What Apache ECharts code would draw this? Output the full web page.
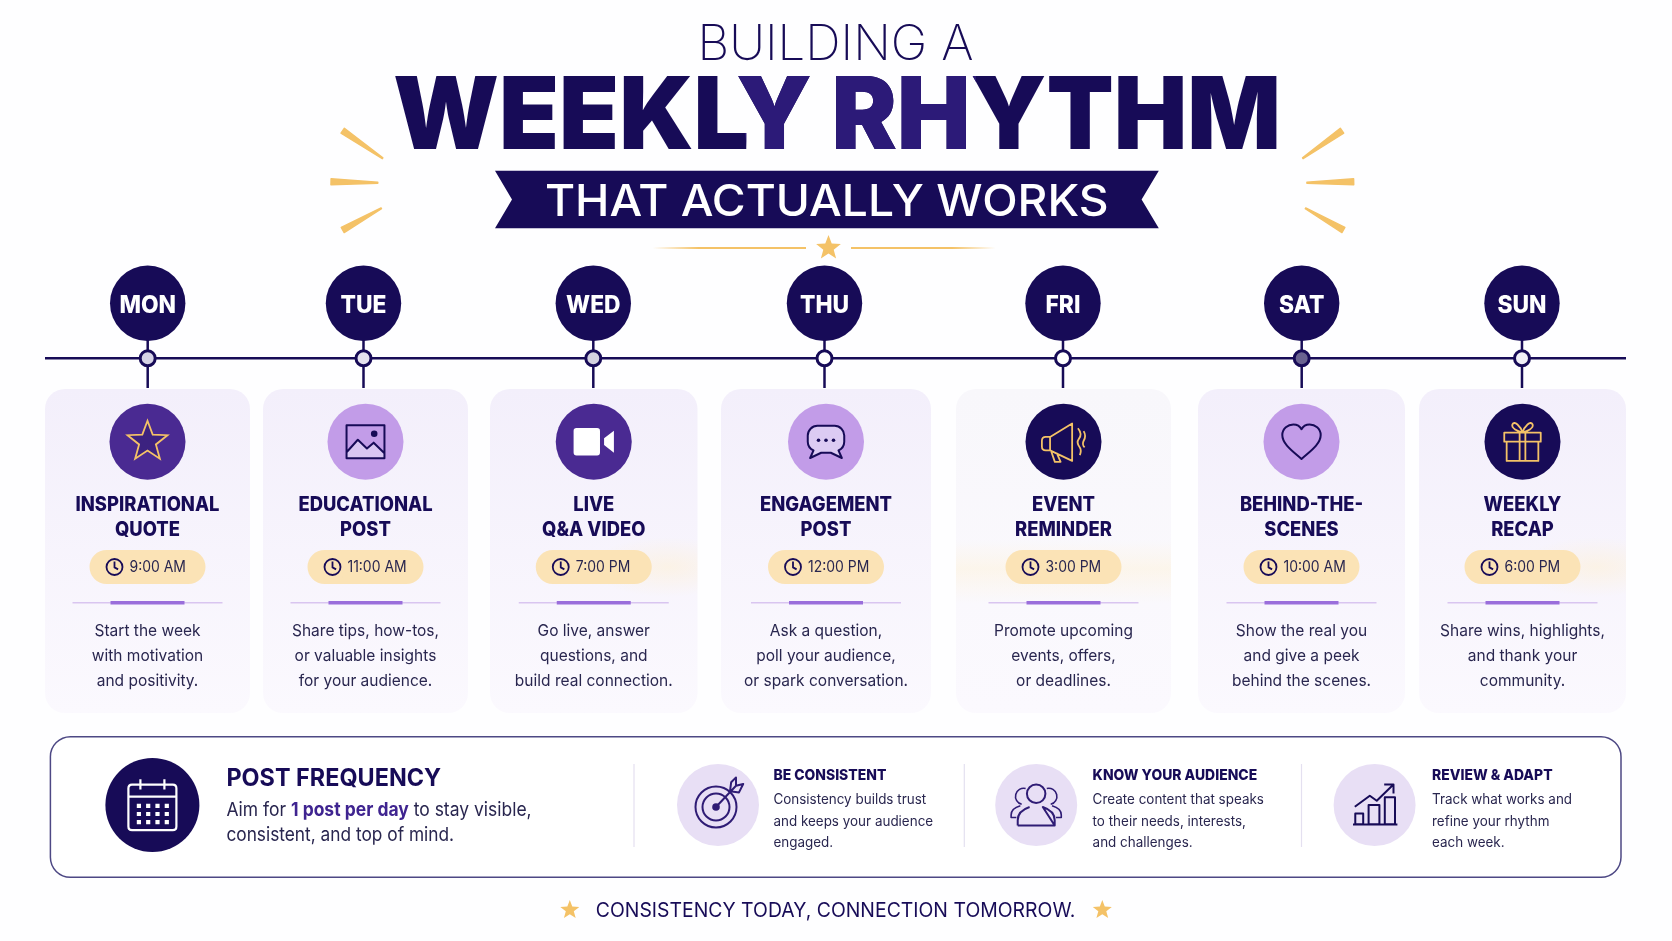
<!DOCTYPE html>
<html>
<head>
<meta charset="utf-8">
<title>Building a weekly rhythm</title>
<style>
html, body { margin: 0; padding: 0; background: #fefeff; }
#chart { width: 1672px; height: 941px; }
</style>
</head>
<body>
<div id="chart"></div>
<script src="https://cdn.jsdelivr.net/npm/echarts@6/dist/echarts.min.js"></script>
<script>
'use strict';

// 内容
var dayLabels = ['MON', 'TUE', 'WED', 'THU', 'FRI', 'SAT', 'SUN'];
var postTitles = [
    ['INSPIRATIONAL', 'QUOTE'],
    ['EDUCATIONAL', 'POST'],
    ['LIVE', 'Q&A VIDEO'],
    ['ENGAGEMENT', 'POST'],
    ['EVENT', 'REMINDER'],
    ['BEHIND-THE-', 'SCENES'],
    ['WEEKLY', 'RECAP']
];
var postTimes = ['9:00 AM', '11:00 AM', '7:00 PM', '12:00 PM', '3:00 PM', '10:00 AM', '6:00 PM'];
var postCaptions = [
    ['Start the week', 'with motivation', 'and positivity.'],
    ['Share tips, how-tos,', 'or valuable insights', 'for your audience.'],
    ['Go live, answer', 'questions, and', 'build real connection.'],
    ['Ask a question,', 'poll your audience,', 'or spark conversation.'],
    ['Promote upcoming', 'events, offers,', 'or deadlines.'],
    ['Show the real you', 'and give a peek', 'behind the scenes.'],
    ['Share wins, highlights,', 'and thank your', 'community.']
];
var tipTitles = ['BE CONSISTENT', 'KNOW YOUR AUDIENCE', 'REVIEW & ADAPT'];
var tipLines = [
    ['Consistency builds trust', 'and keeps your audience', 'engaged.'],
    ['Create content that speaks', 'to their needs, interests,', 'and challenges.'],
    ['Track what works and', 'refine your rhythm', 'each week.']
];

// 版面
var W = 1672, H = 941;
var NAVY = '#170b57', PURPLE = '#4a2a92', LILAC = '#c29ce8', GOLD = '#f4c267', INK = '#29264f';
var FONT = 'Inter, "Noto Sans", sans-serif';
var timelineX = [147.7, 363.5, 593.3, 824.5, 1063, 1301.7, 1522];
var timelineY = 358.3;
var cardLeft = [45, 263, 490, 721, 956, 1198, 1419];
var cardRight = [250, 468, 697.5, 931, 1171, 1405, 1626];
var nodeFill = ['#d6d3e6', '#e6e3ef', '#d4d2e0', '#ffffff', '#ffffff', '#6a6390', '#f1f0f7'];
var iconFill = [PURPLE, LILAC, PURPLE, LILAC, NAVY, LILAC, NAVY];
var glowSide = [0, 0, 1, 0, 2, 0, 1];
var tipCircleX = [718, 1036.2, 1374.6];
var tipTextX = [773.4, 1092.6, 1432];
var tipRuleX = [634, 964.3, 1301.5];

// 小工具
function txt(text, x, y, size, weight, fill, align, scaleX) {
    return {
        type: 'text', x: x, y: y, scaleX: scaleX || 1,
        style: {
            text: text, fontFamily: FONT, fontSize: size, fontWeight: weight, fill: fill,
            align: align || 'center', verticalAlign: 'middle'
        }
    };
}
function circle(cx, cy, r, fill, stroke, lw) {
    return {
        type: 'circle', shape: {cx: cx, cy: cy, r: r},
        style: {fill: fill || 'none', stroke: stroke || 'none', lineWidth: lw || 0}
    };
}
function rrect(x, y, w, h, r, fill, stroke, lw) {
    return {
        type: 'rect', shape: {x: x, y: y, width: w, height: h, r: r},
        style: {fill: fill || 'none', stroke: stroke || 'none', lineWidth: lw || 0}
    };
}
function seg(x1, y1, x2, y2, stroke, lw) {
    return {
        type: 'line', shape: {x1: x1, y1: y1, x2: x2, y2: y2},
        style: {stroke: stroke, lineWidth: lw}
    };
}
// 图标路径都画在 100x100 的方框里，前面两段极短的线把外框撑满
var BOX = 'M0 0L0.001 0M100 100L100.001 100';
function icon(d, cx, cy, size, fill, stroke, lw) {
    return {
        type: 'path',
        shape: {pathData: BOX + d, x: cx - size / 2, y: cy - size / 2, width: size, height: size, layout: 'cover'},
        style: {fill: fill || 'none', stroke: stroke || 'none', lineWidth: lw || 0, lineJoin: 'round'}
    };
}
function starPoints(cx, cy, r, inner) {
    var pts = [];
    for (var i = 0; i < 10; i++) {
        var a = -Math.PI / 2 + i * Math.PI / 5;
        var rad = i % 2 ? r * inner : r;
        pts.push([cx + rad * Math.cos(a), cy + rad * Math.sin(a)]);
    }
    return pts;
}
function star(cx, cy, r, fill, stroke, lw) {
    return {
        type: 'polygon', shape: {points: starPoints(cx, cy, r, 0.42)},
        style: {fill: fill, stroke: stroke || 'none', lineWidth: lw || 0, lineJoin: 'miter'}
    };
}
// 渐细的金色光线，外端宽，内端尖
function ray(x1, y1, x2, y2) {
    var dx = x2 - x1, dy = y2 - y1, len = Math.sqrt(dx * dx + dy * dy);
    var nx = -dy / len, ny = dx / len;
    return {
        type: 'polygon',
        shape: {points: [
            [x1 + nx * 3, y1 + ny * 3], [x2 + nx * 0.5, y2 + ny * 0.5],
            [x2 - nx * 0.5, y2 - ny * 0.5], [x1 - nx * 3, y1 - ny * 3]
        ]},
        style: {fill: GOLD, stroke: GOLD, lineWidth: 1.4, lineJoin: 'round'}
    };
}
function fade(a, b) {
    return new echarts.graphic.LinearGradient(a, 0, b, 0, [
        {offset: 0, color: 'rgba(244,194,103,0)'},
        {offset: 0.3, color: GOLD},
        {offset: 1, color: GOLD}
    ]);
}

// 时间胶囊旁的淡黄光晕
function glow(i, left, right) {
    if (glowSide[i] === 2) {
        return [rrect(left, 540, right - left, 64, 0, new echarts.graphic.LinearGradient(0, 0, 0, 1, [
            {offset: 0, color: 'rgba(255,242,214,0)'},
            {offset: 0.45, color: 'rgba(255,242,214,0.45)'},
            {offset: 1, color: 'rgba(255,242,214,0)'}
        ]))];
    }
    if (glowSide[i] === 1) {
        var sx = 2.6, gx = right - 30;
        return [{
            type: 'circle', x: gx, y: 567, scaleX: sx, shape: {cx: 0, cy: 0, r: 30},
            style: {
                fill: new echarts.graphic.RadialGradient(0.5, 0.5, 0.5, [
                    {offset: 0, color: 'rgba(255,240,208,0.5)'},
                    {offset: 1, color: 'rgba(255,240,208,0)'}
                ])
            },
            clipPath: {type: 'rect', shape: {x: -80 / sx, y: -40, width: 110 / sx, height: 80}}
        }];
    }
    return [];
}

// 每张卡片里的图标
function dayIcon(i, cx, cy) {
    var out = [];
    switch (i) {
    case 0:
        out.push(star(cx, cy, 21, '#3c2280', GOLD, 1.8));
        break;
    case 1:
        out.push(icon('M10.5 70L34 46L53 64L67 52L89.5 72V84.5H10.5Z', cx, cy, 48, '#d9c6f2'));
        out.push(icon('M10.5 15.5H89.5V84.5H10.5ZM10.5 72L34 46L53 64L67 52L89.5 74', cx, cy, 48, 'none', NAVY, 2));
        out.push(circle(cx + 8.7, cy - 8, 3.3, NAVY));
        break;
    case 2:
        out.push(icon('M14 21.5H57Q63 21.5 63 27.5V72.5Q63 78.5 57 78.5H14Q8 78.5 8 72.5V27.5Q8 21.5 14 21.5ZM71.5 43L92 27V73L71.5 57Z', cx, cy, 48, '#ffffff'));
        break;
    case 3:
        out.push(icon('M32 17H68A20 20 0 0 1 88 37V50A20 20 0 0 1 76 68L83 84L60 73H40L17 84L24 68A20 20 0 0 1 12 50V37A20 20 0 0 1 32 17Z', cx, cy, 48, '#dccbf3', NAVY, 2));
        out.push(circle(cx - 7.5, cy - 1.5, 1.8, NAVY), circle(cx, cy - 1.5, 1.8, NAVY), circle(cx + 7.5, cy - 1.5, 1.8, NAVY));
        break;
    case 4:
        out.push(icon('M22 40H13Q5 40 5 48V60Q5 68 13 68H22ZM22 40L68 12V90L22 68ZM24 69L32 92H44L36 74M80 22Q90 34 82 44Q76 52 84 62Q88 68 84 78M92 28Q98 38 92 48Q88 56 94 62', cx, cy, 48, 'none', GOLD, 1.8));
        break;
    case 5:
        out.push(icon('M50 86C35 72 10 56 10 36C10 22 22 14 33 14C41 14 47 18 50 24C53 18 59 14 67 14C78 14 90 22 90 36C90 56 65 72 50 86Z', cx, cy, 48, 'none', NAVY, 2));
        break;
    default:
        out.push(icon('M12 31H88V50H12ZM17 50V90H83V50M44 31V90M56 31V90M50 31C40 28 26 22 29 14C33 5 46 18 50 31C54 18 67 5 71 14C74 22 60 28 50 31Z', cx, cy, 48, 'none', GOLD, 1.8));
    }
    return out;
}

function renderDay(params, api) {
    var i = api.value(1);
    var pos = api.coord([api.value(0), timelineY]);
    var x = pos[0], y = pos[1];
    var left = cardLeft[i], right = cardRight[i], cx = (left + right) / 2;
    var children = [];

    // 卡片底色
    var top = i === 4 ? '#f8f7fb' : '#f3effb';
    children.push(rrect(left, 389, right - left, 324, 20,
        new echarts.graphic.LinearGradient(0, 0, 0, 1, [
            {offset: 0, color: top},
            {offset: 1, color: '#fbf9fe'}
        ])));
    children = children.concat(glow(i, left, right));

    // 时间轴上的圆和节点
    children.push(seg(x, y - 20, x, 388, NAVY, 2.5));
    children.push(circle(x, y - 55, 37.7, NAVY));
    children.push(circle(x, y, 7.5, nodeFill[i], NAVY, 3));
    children.push(txt(dayLabels[i], x, y - 53, 24, 800, '#ffffff', 'center', 0.95));

    // 图标
    children.push(circle(cx, 441.7, 38, iconFill[i]));
    children = children.concat(dayIcon(i, cx, 441.7));

    // 标题
    children.push(txt(postTitles[i][0], cx, 505, 20, 800, NAVY, 'center', 0.92));
    children.push(txt(postTitles[i][1], cx, 530, 20, 800, NAVY, 'center', 0.92));

    // 时间
    children.push(rrect(cx - 58, 550, 116, 34, 17, '#fbe3b6'));
    var clockX = cx - 33;
    children.push(circle(clockX, 567, 8, 'none', NAVY, 1.8));
    children.push(icon('M50 22V52L68 62', clockX, 567, 20, 'none', NAVY, 1.8));
    children.push(txt(postTimes[i], cx - 18, 567, 15.5, 400, INK, 'left', 0.9));

    // 分隔线
    children.push(seg(cx - 75, 602.7, cx + 75, 602.7, '#d9c5f0', 1.5));
    children.push(seg(cx - 37, 602.7, cx + 37, 602.7, '#9a6edb', 3.5));

    // 说明
    children.push(txt(postCaptions[i][0], cx, 631, 16.5, 400, INK, 'center', 0.94));
    children.push(txt(postCaptions[i][1], cx, 656, 16.5, 400, INK, 'center', 0.94));
    children.push(txt(postCaptions[i][2], cx, 680.7, 16.5, 400, INK, 'center', 0.94));

    return {type: 'group', children: children};
}

function tipIcon(i, cx, cy) {
    var c = '#2f1c75';
    if (i === 0) {
        return [
            circle(cx - 2, cy + 2, 20.5, 'none', c, 2),
            circle(cx - 2, cy + 2, 13.5, 'none', c, 2),
            circle(cx - 2, cy + 2, 3.8, c),
            icon('M47 53L80 18M72 12L70 27L85 29L92 15L80 18L80 4Z', cx, cy, 60, 'none', c, 2)
        ];
    }
    if (i === 1) {
        return [
            icon('M50 19A14 14 0 1 1 49.9 19ZM22 81V73Q22 59 40 53M60 53Q78 59 78 73V81ZM22 81H78', cx, cy, 66, 'none', c, 2),
            icon('M34 25A11 11 0 1 0 28 49M66 25A11 11 0 1 1 72 49M20 69H12V65Q12 55 26 51M80 69H88V65Q88 55 74 51', cx, cy, 66, 'none', c, 1.6)
        ];
    }
    return [
        icon('M17.8 64H31V82H17.8ZM40 50H58V82H40ZM67 37H84V82H67ZM14 82.5H88M17 53L42 34.5L53.6 43L80.5 16.7M66 16H81.5V31', cx, cy, 60, 'none', NAVY, 2)
    ];
}

function renderTip(params, api) {
    var i = api.value(0);
    var cx = tipCircleX[i], tx = tipTextX[i];
    var children = [
        seg(tipRuleX[i], 764, tipRuleX[i], 847, '#e4e0f0', 1.2),
        circle(cx, 805, 41, '#e8dff5')
    ];
    children = children.concat(tipIcon(i, cx, 805));
    children.push(txt(tipTitles[i], tx, 775.7, 14.5, 800, NAVY, 'left', 0.96));
    children.push(txt(tipLines[i][0], tx, 799.5, 14, 400, INK, 'left', 0.96));
    children.push(txt(tipLines[i][1], tx, 821.5, 14, 400, INK, 'left', 0.96));
    children.push(txt(tipLines[i][2], tx, 842.5, 14, 400, INK, 'left', 0.96));
    return {type: 'group', children: children};
}

// 大标题、面板和页脚
function renderFrame() {
    var dots = '';
    for (var r = 0; r < 3; r++) {
        for (var c = 0; c < 4; c++) {
            var dx = 24 + c * 15.5, dy = 48 + r * 13.5;
            dots += 'M' + dx + ' ' + dy + 'h7v7h-7z';
        }
    }
    var sx = 0.98;
    var headline = txt('WEEKLY RHYTHM', 837, 119, 100, 900, NAVY, 'center', sx);
    var headlineMid = txt('WEEKLY RHYTHM', 837, 119, 100, 900, '#2c1a78', 'center', sx);
    // 中间几个字母颜色稍浅，裁剪边沿着 Y 的斜笔走
    headlineMid.clipPath = {
        type: 'polygon',
        shape: {points: [
            [(733 - 837) / sx, -60], [(976 - 837) / sx, -60],
            [(976 - 837) / sx, 60], [(752 - 837) / sx, 60]
        ]}
    };
    return {
        type: 'group',
        children: [
            txt('BUILDING A', 835.5, 45.5, 48.5, 200, NAVY, 'center', 1.015),
            headline,
            headlineMid,
            {
                type: 'polygon',
                shape: {points: [[495, 170.7], [1158.8, 170.7], [1141.6, 199.5], [1158.8, 228.3], [495, 228.3], [512, 199.5]]},
                style: {fill: NAVY}
            },
            txt('THAT ACTUALLY WORKS', 826.8, 203, 44, 500, '#ffffff', 'center', 1.05),
            ray(342.7, 130.7, 382.6, 158.3),
            ray(331, 181.7, 377.8, 182.7),
            ray(342.7, 230, 381.3, 208.3),
            ray(1342, 130.7, 1302.8, 158.3),
            ray(1353.7, 181.7, 1306.9, 182.7),
            ray(1343.4, 230, 1305.5, 208.3),
            star(828.5, 248, 13, GOLD),
            rrect(652.6, 247, 153.4, 2, 0, fade(0, 1)),
            rrect(851, 247, 144.6, 2, 0, fade(1, 0)),

            rrect(50.4, 736.7, 1570.6, 140.6, 20, '#ffffff', '#4d4884', 1.5),
            circle(152.4, 805, 47, NAVY),
            icon('M16 16H84Q90 16 90 22V86Q90 92 84 92H16Q10 92 10 86V22Q10 16 16 16ZM10 36H90M30 7V24M70 7V24', 152.4, 805, 60, 'none', '#ffffff', 2.2),
            icon(dots, 152.4, 805, 60, '#ffffff'),
            txt('POST FREQUENCY', 226.4, 779, 24, 700, NAVY, 'left', 0.975),
            {
                type: 'text', x: 226.4, y: 810, scaleX: 0.92,
                style: {
                    text: 'Aim for {b|1 post per day} to stay visible,',
                    fontFamily: FONT, fontSize: 19, fontWeight: 400, fill: INK,
                    verticalAlign: 'middle',
                    rich: {b: {fontFamily: FONT, fontSize: 19, fontWeight: 700, fill: '#3f2490'}}
                }
            },
            txt('consistent, and top of mind.', 226.4, 835.7, 19, 400, INK, 'left', 0.91),
            star(569.8, 910, 10, GOLD),
            txt('CONSISTENCY TODAY, CONNECTION TOMORROW.', 835.5, 910.5, 20, 400, NAVY, 'center', 0.97),
            star(1102.3, 910, 10, GOLD)
        ]
    };
}

var chart = echarts.init(document.getElementById('chart'), null, {renderer: 'canvas'});
chart.setOption({
    animation: false,
    backgroundColor: '#fefeff',
    grid: {left: 0, right: 0, top: 0, bottom: 0},
    xAxis: {type: 'value', min: 0, max: W, show: false},
    yAxis: {type: 'value', min: 0, max: H, inverse: true, show: false},
    series: [
        {
            type: 'custom', silent: true, z: 1, clip: false,
            renderItem: renderFrame,
            data: [[0]]
        },
        {
            // 时间轴
            type: 'line', silent: true, symbol: 'none', z: 2,
            lineStyle: {color: NAVY, width: 2.5},
            data: [[cardLeft[0], timelineY], [cardRight[6], timelineY]]
        },
        {
            type: 'custom', silent: true, z: 3, clip: false,
            renderItem: renderDay,
            data: dayLabels.map(function (d, i) { return [timelineX[i], i]; })
        },
        {
            type: 'custom', silent: true, z: 4, clip: false,
            renderItem: renderTip,
            data: tipTitles.map(function (t, i) { return [i]; })
        }
    ]
});
</script>
</body>
</html>
